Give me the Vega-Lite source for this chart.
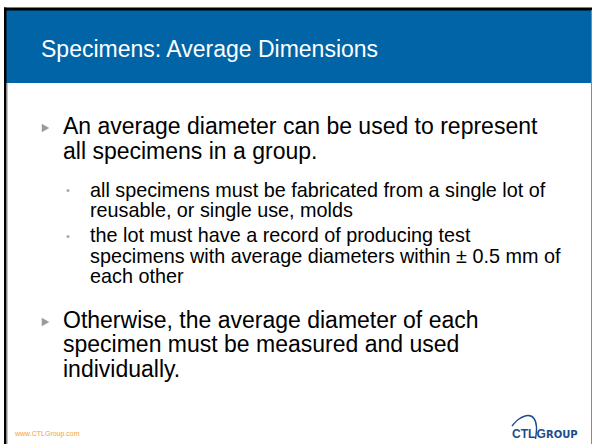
{
  "$schema": "https://vega.github.io/schema/vega-lite/v6.json",
  "width": 594,
  "height": 444,
  "padding": 0,
  "autosize": {"type": "none"},
  "background": "white",
  "config": {"view": {"stroke": null}},
  "encoding": {
    "x": {"field": "x", "type": "quantitative", "scale": {"domain": [0, 594], "nice": false, "zero": false}, "axis": null},
    "y": {"field": "y", "type": "quantitative", "scale": {"domain": [0, 444], "nice": false, "zero": false, "reverse": true}, "axis": null}
  },
  "layer": [
    {
      "data": {"values": [{"x": 6, "x2": 591, "y": 10, "y2": 83}]},
      "mark": {"type": "rect", "fill": "#0064A6"},
      "encoding": {"x2": {"field": "x2"}, "y2": {"field": "y2"}}
    },
    {
      "data": {"values": [
        {"x": 4, "x2": 592, "y": 7.5, "y2": 10.5},
        {"x": 4, "x2": 6.5, "y": 7.5, "y2": 444}
      ]},
      "mark": {"type": "rect", "fill": "#000000"},
      "encoding": {"x2": {"field": "x2"}, "y2": {"field": "y2"}}
    },
    {
      "data": {"values": [
        {"x": 6.5, "x2": 7.5, "y": 83, "y2": 444},
        {"x": 591, "x2": 592, "y": 10.5, "y2": 444}
      ]},
      "mark": {"type": "rect", "fill": "#8a8a8a"},
      "encoding": {"x2": {"field": "x2"}, "y2": {"field": "y2"}}
    },
    {
      "data": {"values": [{"x": 41, "y": 57, "t": "Specimens: Average Dimensions"}]},
      "mark": {"type": "text", "align": "left", "baseline": "alphabetic", "font": "Liberation Sans", "fontSize": 23, "color": "#ffffff"},
      "encoding": {"text": {"field": "t"}}
    },
    {
      "data": {"values": [{"x": 45.5, "y": 128}, {"x": 45.5, "y": 322}]},
      "mark": {"type": "point", "shape": "triangle-right", "filled": true, "size": 75, "color": "#9a9a9a", "opacity": 1},
      "encoding": {}
    },
    {
      "data": {"values": [{"x": 68, "y": 190.5}, {"x": 68, "y": 236.5}]},
      "mark": {"type": "point", "shape": "circle", "filled": true, "size": 9, "color": "#a8a8a8", "opacity": 1},
      "encoding": {}
    },
    {
      "data": {"values": [
        {"x": 63, "y": 134, "t": "An average diameter can be used to represent"},
        {"x": 63, "y": 159, "t": "all specimens in a group."},
        {"x": 63, "y": 328, "t": "Otherwise, the average diameter of each"},
        {"x": 63, "y": 352, "t": "specimen must be measured and used"},
        {"x": 63, "y": 377, "t": "individually."}
      ]},
      "mark": {"type": "text", "align": "left", "baseline": "alphabetic", "font": "Liberation Sans", "fontSize": 23, "color": "#000000"},
      "encoding": {"text": {"field": "t"}}
    },
    {
      "data": {"values": [
        {"x": 90, "y": 196.5, "t": "all specimens must be fabricated from a single lot of"},
        {"x": 90, "y": 217, "t": "reusable, or single use, molds"},
        {"x": 90, "y": 242, "t": "the lot must have a record of producing test"},
        {"x": 90, "y": 262.5, "t": "specimens with average diameters within ± 0.5 mm of"},
        {"x": 90, "y": 283, "t": "each other"}
      ]},
      "mark": {"type": "text", "align": "left", "baseline": "alphabetic", "font": "Liberation Sans", "fontSize": 19.8, "color": "#000000"},
      "encoding": {"text": {"field": "t"}}
    },
    {
      "data": {"values": [{"x": 15, "y": 436, "t": "www.CTLGroup.com"}]},
      "mark": {"type": "text", "align": "left", "baseline": "alphabetic", "font": "Liberation Sans", "fontSize": 7, "color": "#F5A13A"},
      "encoding": {"text": {"field": "t"}}
    },
    {
      "data": {"values": [{"x": 512, "y": 438, "t": "CTL"}]},
      "mark": {"type": "text", "align": "left", "baseline": "alphabetic", "font": "Liberation Sans", "fontWeight": "bold", "fontSize": 12, "color": "#1B4D8C"},
      "encoding": {"text": {"field": "t"}}
    },
    {
      "data": {"values": [{"x": 536.5, "y": 438, "t": "G"}]},
      "mark": {"type": "text", "align": "left", "baseline": "alphabetic", "font": "Liberation Sans", "fontWeight": "bold", "fontSize": 12, "color": "#1B4D8C"},
      "encoding": {"text": {"field": "t"}}
    },
    {
      "data": {"values": [{"x": 546, "y": 438, "t": "ROUP"}]},
      "mark": {"type": "text", "align": "left", "baseline": "alphabetic", "font": "DejaVu Sans", "fontWeight": "bold", "fontSize": 10, "color": "#1B4D8C"},
      "encoding": {"text": {"field": "t"}}
    },
    {
      "data": {"values": [
        {"i": 1, "x": 512, "y": 426},
        {"i": 2, "x": 519, "y": 419},
        {"i": 3, "x": 528, "y": 415.5},
        {"i": 4, "x": 534, "y": 418.5},
        {"i": 5, "x": 536.5, "y": 427},
        {"i": 6, "x": 535.5, "y": 439}
      ]},
      "mark": {"type": "line", "interpolate": "cardinal", "strokeWidth": 1.4, "color": "#1B4D8C"},
      "encoding": {"order": {"field": "i", "type": "quantitative"}}
    }
  ]
}
